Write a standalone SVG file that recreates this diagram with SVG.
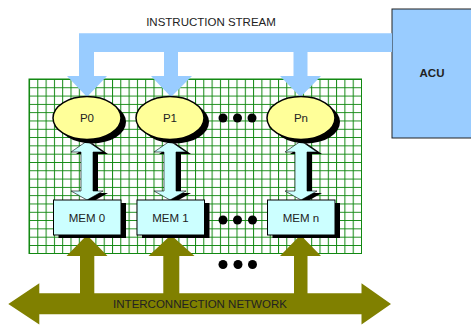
<svg xmlns="http://www.w3.org/2000/svg" width="471" height="325" viewBox="0 0 471 325">
<defs>
<pattern id="grid" x="29" y="79" width="8.3" height="8.3" patternUnits="userSpaceOnUse">
<rect width="8.3" height="8.3" fill="#fff"/>
<path d="M0.5 0 V8.3 M0 0.5 H8.3" stroke="#118811" stroke-width="1" fill="none"/>
</pattern>
</defs>
<style>
text{font-family:"Liberation Sans",Arial,sans-serif;font-size:11.5px;fill:#222;text-anchor:middle}
.proc{fill:#ffff99;stroke:#000;stroke-width:1.5}
.mem{fill:#ccffff;stroke:#000;stroke-width:1}
.shadow{fill:#000}
.dbl{fill:#ccffff;stroke:#000;stroke-width:0.6}
.blue{fill:#99ccff}
.olive{fill:#808000}
.dot{fill:#000}
</style>
<rect width="471" height="325" fill="#fff"/>
<rect x="29" y="79" width="332.5" height="174.5" fill="url(#grid)" stroke="#118811" stroke-width="1"/>

<g id="acu">
<rect x="392" y="9" width="85" height="129" fill="#99ccff" stroke="#222" stroke-width="1"/>
<text x="432" y="77" style="font-weight:bold">ACU</text>
</g>

<text id="label-instruction" x="211" y="26">INSTRUCTION STREAM</text>

<g id="connectors">
<path class="blue" d="M79 33.3 H392 V52 H307.5 V76 H321 L300.5 97 L280 76 H293.5 V52 H178 V76 H192 L171 97 L151 76 H164 V52 H94 V76 H107 L87 97 L67 76 H79 Z"/>
<g id="mem-links">
<polygon class="shadow" points="92,143 108,154 98,154 98,193 108,193 92,202 76,193 86,193 86,154 76,154"/>
<polygon class="dbl" points="87,141 103,152 93,152 93,191 103,191 87,200 71,191 81,191 81,152 71,152"/>
<polygon class="shadow" points="175,143 191,154 181,154 181,193 191,193 175,202 159,193 169,193 169,154 159,154"/>
<polygon class="dbl" points="170,141 186,152 176,152 176,191 186,191 170,200 154,191 164,191 164,152 154,152"/>
<polygon class="shadow" points="306,143 322,154 312,154 312,193 322,193 306,202 290,193 300,193 300,154 290,154"/>
<polygon class="dbl" points="301,141 317,152 307,152 307,191 317,191 301,200 285,191 295,191 295,152 285,152"/>
</g>
<g id="network-links">
<polygon class="olive" points="87,235 107.5,256 94.3,256 94.3,294 80,294 80,256 66.5,256"/>
<polygon class="olive" points="171,235 194.5,256 179.3,256 179.3,294 163.3,294 163.3,256 148.5,256"/>
<polygon class="olive" points="300.5,235 321,256 307.5,256 307.5,294 294,294 294,256 280,256"/>
</g>
</g>

<g id="network">
<polygon class="olive" points="8.3,304 39.3,283.3 39.3,293.3 361.5,293.3 361.5,283.3 391,304 361.5,324.5 361.5,314.3 39.3,314.3 39.3,324.5"/>
<text x="200" y="308">INTERCONNECTION NETWORK</text>
</g>

<g id="p0">
<ellipse class="shadow" cx="92" cy="122" rx="34" ry="21.5"/>
<ellipse class="proc" cx="87" cy="118" rx="34" ry="21.5"/>
<text x="87" y="122">P0</text>
</g>
<g id="p1">
<ellipse class="shadow" cx="175" cy="122" rx="34" ry="21.5"/>
<ellipse class="proc" cx="170" cy="118" rx="34" ry="21.5"/>
<text x="170" y="122">P1</text>
</g>
<g id="pn">
<ellipse class="shadow" cx="306" cy="122" rx="34" ry="21.5"/>
<ellipse class="proc" cx="301" cy="118" rx="34" ry="21.5"/>
<text x="301" y="122">Pn</text>
</g>

<g id="mem0">
<rect class="shadow" x="58.5" y="203" width="67.5" height="35"/>
<rect class="mem" x="53.5" y="200" width="67.5" height="35"/>
<text x="87" y="222">MEM 0</text>
</g>
<g id="mem1">
<rect class="shadow" x="142" y="203" width="67.5" height="35"/>
<rect class="mem" x="137" y="200" width="67.5" height="35"/>
<text x="170.5" y="222">MEM 1</text>
</g>
<g id="memn">
<rect class="shadow" x="272.5" y="203" width="67.5" height="35"/>
<rect class="mem" x="267.5" y="200" width="67.5" height="35"/>
<text x="301" y="222">MEM n</text>
</g>

<g id="dots">
<circle class="dot" cx="223" cy="118" r="4.5"/>
<circle class="dot" cx="237.5" cy="118" r="4.5"/>
<circle class="dot" cx="252" cy="118" r="4.5"/>
<circle class="dot" cx="223" cy="220" r="4.5"/>
<circle class="dot" cx="237.5" cy="220" r="4.5"/>
<circle class="dot" cx="252.5" cy="220" r="4.5"/>
<circle class="dot" cx="223" cy="264.5" r="4.5"/>
<circle class="dot" cx="238" cy="264.5" r="4.5"/>
<circle class="dot" cx="252.5" cy="264.5" r="4.5"/>
</g>
</svg>
